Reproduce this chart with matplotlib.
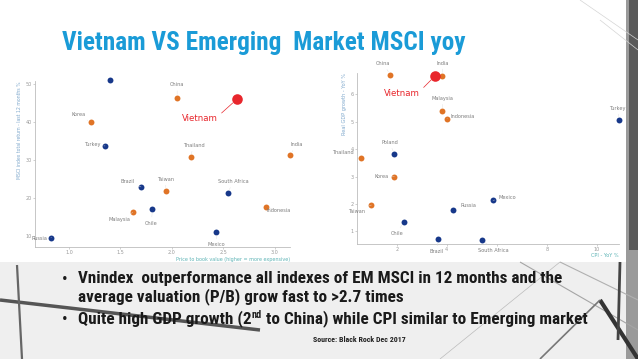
import matplotlib
matplotlib.use("Agg")
import matplotlib.pyplot as plt
from matplotlib.patches import Rectangle
from matplotlib import font_manager as fm

# ---------------- data ----------------
pb_countries = ["Poland", "Korea", "Turkey", "Brazil", "Taiwan", "Malaysia", "Chile", "Russia",
                "China", "Thailand", "India", "South Africa", "Indonesia", "Mexico", "Vietnam"]
pb_values = [1.40, 1.21, 1.35, 1.70, 1.94, 1.62, 1.81, 0.83, 2.05, 2.18, 3.15, 2.54, 2.91, 2.43, 2.63]
msci_return = [51.1, 39.9, 33.7, 22.9, 21.8, 16.2, 17.1, 9.6, 46.4, 30.7, 31.4, 21.4, 17.7, 11.1, 46.0]
pb_group = ["other", "asia", "other", "other", "asia", "asia", "other", "other",
            "asia", "asia", "asia", "other", "asia", "other", "vietnam"]

gdp_countries = ["China", "India", "Malaysia", "Indonesia", "Poland", "Thailand", "Korea", "Taiwan",
                 "Chile", "Brazil", "Russia", "Turkey", "Mexico", "South Africa", "Vietnam"]
cpi_values = [1.74, 3.81, 3.83, 4.01, 1.91, 0.57, 1.91, 0.99, 2.28, 3.65, 4.25, 10.88, 5.85, 5.43, 3.53]
gdp_growth = [6.72, 6.67, 5.38, 5.11, 3.81, 3.68, 2.99, 1.96, 1.35, 0.73, 1.78, 5.06, 2.13, 0.68, 6.67]
gdp_group = ["asia", "asia", "asia", "asia", "other", "asia", "asia", "asia",
             "other", "other", "other", "other", "other", "other", "vietnam"]

left_xticks = [1.0, 1.5, 2.0, 2.5, 3.0]
left_xticklabels = ["1.0", "1.5", "2.0", "2.5", "3.0"]
left_yticks = [10, 20, 30, 40, 50]
right_xticks = [2, 4, 6, 8, 10]
right_xticklabels = ["2", "4", "", "8", "10"]
right_yticks = [1, 2, 3, 4, 5, 6]

title_text = "Vietnam VS Emerging  Market MSCI yoy"
bullet1 = ["Vnindex  outperformance all indexes of EM MSCI in 12 months and the",
           "average valuation (P/B) grow fast to >2.7 times"]
bullet2_parts = ["Quite high GDP growth (2", "nd", " to China) while CPI similar to Emerging market"]
source_text = "Source: Black Rock Dec 2017"

# label offsets (pixels) - layout only
pb_offsets = [(-7, 13), (-12, 8), (-13, 1), (-13, 5), (0, 12), (-13, -7), (-1, -14), (-12, -1),
              (0, 13), (3, 12), (6, 10), (6, 11), (13, -4), (0, -13), (-37, -19)]
gdp_offsets = [(-7, 11), (1, 13), (0, 13), (16, 2), (-5, 12), (-18, 5), (-13, 0), (-15, -6),
               (-7, -12), (-1, -13), (15, 4), (-1, 12), (14, 3), (11, -10), (-33, -17)]

colors = {"asia": "#E07426", "other": "#17388A", "vietnam": "#E8262C"}
sizes = {"asia": 18, "other": 18, "vietnam": 58}

# ---------------- pick a condensed font if available ----------------
names = {f.name for f in fm.fontManager.ttflist}
cond_fp = None
for cand in ["Liberation Sans Narrow", "Roboto Condensed", "Open Sans Condensed", "DejaVu Sans Condensed"]:
    if cand in names:
        cond_fp = dict(family=[cand, "DejaVu Sans"], stretch="normal")
        break
if cond_fp is None:
    path = fm.findfont(fm.FontProperties(family="DejaVu Sans", stretch="condensed"))
    if "Condensed" in path:
        cond_fp = dict(family=["DejaVu Sans"], stretch="condensed")
    else:
        cond_fp = dict(family=["Roboto", "DejaVu Sans"], stretch="normal")

W, H = 638, 359
fig = plt.figure(figsize=(W / 100, H / 100), dpi=100)
fig.patch.set_facecolor("white")
r = fig.canvas.get_renderer()

# ---------------- background decoration ----------------
bg = fig.add_axes([0, 0, 1, 1], zorder=-10)
bg.set_xlim(0, W)
bg.set_ylim(H, 0)
bg.axis("off")
bg.add_patch(Rectangle((0, 262), W, H - 262, color="#efefef", lw=0))
bg.add_patch(Rectangle((626, 0), 12, H, color="#9a9a9a", lw=0))
bg.add_patch(Rectangle((629, 0), 9, 250, color="#5a5a5a", lw=0))
deco = [((0, 300), (260, 330), 2.5, "#555555"), ((17, 265), (22, 359), 1.6, "#666666"),
        ((520, 262), (638, 330), 0.8, "#a5a5a5"), ((560, 262), (638, 300), 0.8, "#b0b0b0"),
        ((600, 300), (638, 359), 3.0, "#333333"), ((540, 359), (600, 300), 1.2, "#777777"),
        ((620, 262), (618, 340), 2.0, "#444444"), ((440, 359), (560, 262), 0.5, "#bbbbbb"),
        ((580, 0), (638, 40), 0.5, "#d5d5d5"), ((600, 20), (638, 50), 0.5, "#d5d5d5")]
for (x0, y0), (x1, y1), lw, c in deco:
    bg.plot([x0, x1], [y0, y1], color=c, lw=lw, solid_capstyle="butt")


def style_axes(ax):
    for s in ["top", "right"]:
        ax.spines[s].set_visible(False)
    for s in ["left", "bottom"]:
        ax.spines[s].set_color("#bdbdbd")
        ax.spines[s].set_linewidth(0.6)
    ax.tick_params(colors="#bdbdbd", labelcolor="#9a9a9a", labelsize=3.5, length=1.5, width=0.5, pad=0.8)
    ax.set_facecolor("none")


def draw(ax, xs, ys, groups, names_, offsets):
    for x, y, g, n, (dx, dy) in zip(xs, ys, groups, names_, offsets):
        ax.scatter([x], [y], s=sizes[g], color=colors[g], zorder=3, clip_on=False, lw=0)
        if g == "vietnam":
            ax.annotate(n, (x, y), xytext=(dx, dy), textcoords="offset pixels",
                        ha="center", va="center", fontsize=6.2, color="#E8262C",
                        family="DejaVu Sans",
                        arrowprops=dict(arrowstyle="-", color="#E8262C", lw=0.5,
                                        shrinkA=1, shrinkB=4, relpos=(1, 0.7)))
        else:
            ax.annotate(n, (x, y), xytext=(dx, dy), textcoords="offset pixels",
                        ha="center", va="center", fontsize=3.6, color="#7d7d7d",
                        family="DejaVu Sans",
                        arrowprops=dict(arrowstyle="-", color="#dddddd", lw=0.3,
                                        shrinkA=0.5, shrinkB=2.5))


# ---------------- left chart ----------------
axL = fig.add_axes([34.7 / W, 1 - 247 / H, (290 - 34.7) / W, (247 - 81) / H])
style_axes(axL)
axL.set_xlim(0.667, 3.146)
axL.set_ylim(7.1, 50.8)
axL.set_xticks(left_xticks)
axL.set_xticklabels(left_xticklabels)
axL.set_yticks(left_yticks)
draw(axL, pb_values, msci_return, pb_group, pb_countries, pb_offsets)
axL.text(1.0, -0.058, "Price to book value (higher = more expensive)", transform=axL.transAxes,
         ha="right", va="top", fontsize=3.5, color="#5cb3b5")
axL.text(-0.068, 1.0, "MSCI index total return - last 12 months %", transform=axL.transAxes,
         ha="right", va="top", rotation=90, rotation_mode="anchor", fontsize=3.3, color="#7fa8cc")

# ---------------- right chart ----------------
axR = fig.add_axes([357.3 / W, 1 - 244 / H, (618.5 - 357.3) / W, (244 - 73) / H])
style_axes(axR)
axR.set_xlim(0.424, 10.87)
axR.set_ylim(0.537, 6.78)
axR.set_xticks(right_xticks)
axR.set_xticklabels(right_xticklabels)
axR.set_yticks(right_yticks)
draw(axR, cpi_values, gdp_growth, gdp_group, gdp_countries, gdp_offsets)
axR.text(1.0, -0.05, "CPI - YoY %", transform=axR.transAxes,
         ha="right", va="top", fontsize=3.6, color="#5cb3b5")
axR.text(-0.06, 1.0, "Real GDP growth - YoY %", transform=axR.transAxes,
         ha="right", va="top", rotation=90, rotation_mode="anchor", fontsize=3.6, color="#7fa8cc")


# ---------------- slide text (fitted to reference widths) ----------------
def fit_text(x_px, y_px, s, target_w, base=12.0, **kw):
    t = fig.text(x_px / W, 1 - y_px / H, s, fontsize=base, **cond_fp, **kw)
    w = t.get_window_extent(r).width
    t.set_fontsize(base * target_w / w)
    return t


title = fit_text(62, 43, title_text, 403, base=16, ha="left", va="center",
                 fontweight="bold", color="#1A9BD7")

TXT = "#1a1a1a"
BW = "semibold"
l1 = fit_text(78, 279, bullet1[0], 480, base=11, ha="left", va="center", color=TXT, fontweight=BW)
fs = l1.get_fontsize()
fig.text(62 / W, 1 - 279 / H, "\u2022", ha="left", va="center", fontsize=fs, color=TXT, **cond_fp)
fig.text(78 / W, 1 - 297 / H, bullet1[1], ha="left", va="center", fontsize=fs, color=TXT,
         fontweight=BW, **cond_fp)
fig.text(62 / W, 1 - 319 / H, "\u2022", ha="left", va="center", fontsize=fs, color=TXT, **cond_fp)

t1 = fig.text(78 / W, 1 - 319 / H, bullet2_parts[0], ha="left", va="center", fontsize=fs,
              color=TXT, fontweight=BW, **cond_fp)
bb = t1.get_window_extent(r)
t2 = fig.text(bb.x1 / W, 1 - 315 / H, bullet2_parts[1], ha="left", va="center", fontsize=fs * 0.6,
              color=TXT, fontweight=BW, **cond_fp)
bb2 = t2.get_window_extent(r)
fig.text(bb2.x1 / W, 1 - 319 / H, bullet2_parts[2], ha="left", va="center", fontsize=fs,
         color=TXT, fontweight=BW, **cond_fp)

fit_text(359, 339, source_text, 92, base=5.5, ha="center", va="center",
         fontweight="bold", color="#222222")

fig.savefig("out.png", dpi=100)
